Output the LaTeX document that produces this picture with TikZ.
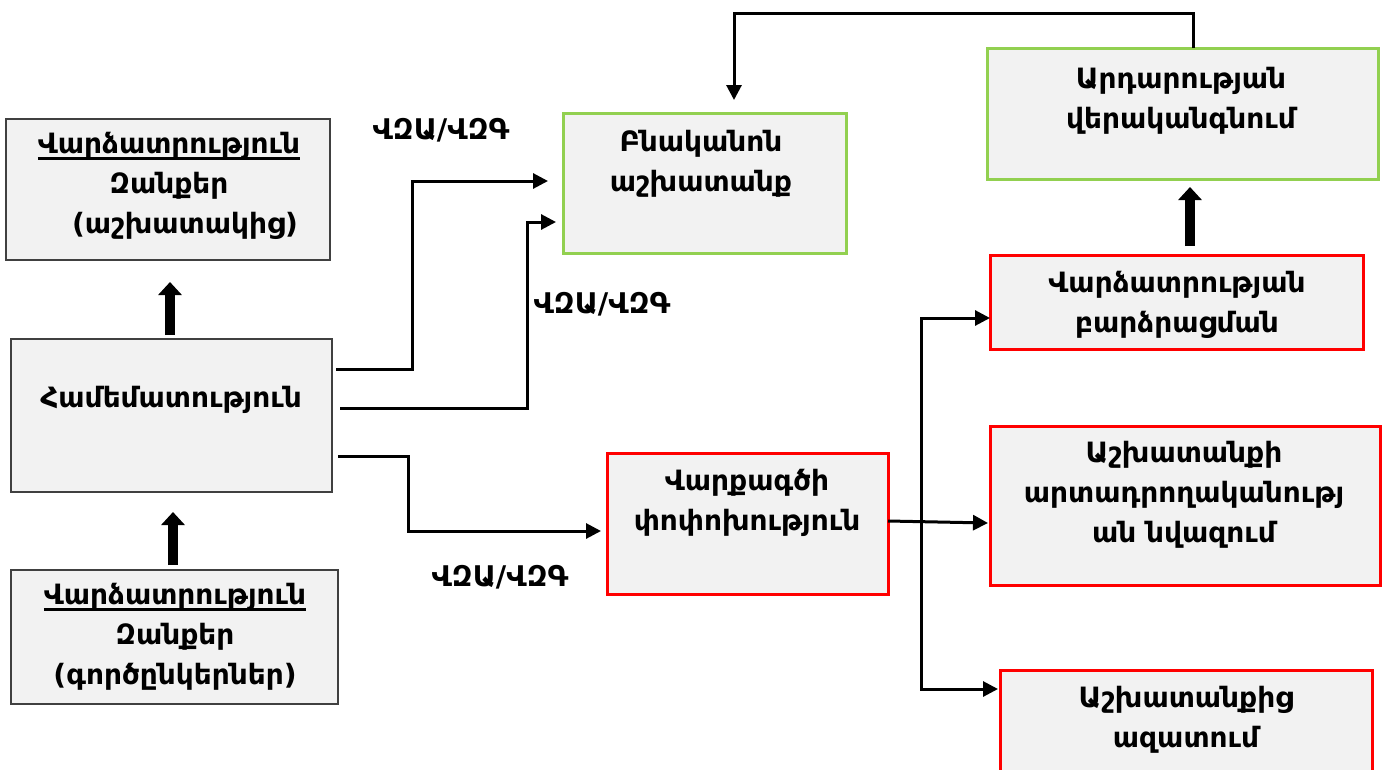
\documentclass[tikz,border=0pt]{standalone}
\usepackage{fontspec}
\setmainfont{DejaVu Sans}
\usetikzlibrary{arrows.meta}
\definecolor{boxfill}{HTML}{F2F2F2}
\definecolor{graybd}{HTML}{404040}
\definecolor{greenbd}{HTML}{92D050}
\definecolor{redbd}{HTML}{FF0000}
\newcommand\thickul[1]{\leavevmode\setbox0\hbox{#1}\rlap{\rule[-6pt]{\wd0}{2.6pt}}\box0}
\tikzset{
  box/.style={rectangle, fill=boxfill, inner sep=0pt, outer sep=0pt},
  graybox/.style={box, draw=graybd, line width=1.2pt},
  greenbox/.style={box, draw=greenbd, line width=3pt},
  redbox/.style={box, draw=redbd, line width=3pt},
  txt/.style={font=\bfseries\fontsize{28}{40}\selectfont, align=center, inner sep=0pt},
  lbl/.style={font=\bfseries\fontsize{28.5}{32}\selectfont, inner sep=0pt},
  conn/.style={line width=3pt, -{Triangle[length=15pt,width=15pt]}},
  plainline/.style={line width=3pt},
  bigarrow/.style={line width=10pt, -{Triangle[length=13pt,width=23pt]}},
}
\begin{document}
\begin{tikzpicture}[x=1pt,y=-1pt]
\useasboundingbox (0,0) rectangle (1385,769);
\clip (0,0) rectangle (1385,769);
% boxes
\node[graybox, minimum width=324pt, minimum height=141pt] (vzA) at (168,189.5) {};
\node[graybox, minimum width=321pt, minimum height=153pt] (cmp) at (171.5,415.5) {};
\node[graybox, minimum width=327pt, minimum height=134pt] (vzG) at (174.5,637) {};
\node[greenbox, minimum width=283pt, minimum height=140pt] (bn) at (704.5,183) {};
\node[greenbox, minimum width=391pt, minimum height=131pt] (ar) at (1182.5,113.5) {};
\node[redbox, minimum width=373pt, minimum height=94pt] (bar) at (1176.5,302) {};
\node[redbox, minimum width=390pt, minimum height=159pt] (nv) at (1185,505.5) {};
\node[redbox, minimum width=372pt, minimum height=120pt] (az) at (1186,730) {};
\node[redbox, minimum width=281pt, minimum height=141pt] (vq) at (747.5,523.5) {};
% texts
\node[txt] (t1) at (169,186) {\thickul{Վարձատրություն}\\Զանքեր\\\hspace*{32pt}(աշխատակից)};
\node[txt] (t2) at (171,400) {Համեմատություն};
\node[txt] (t3) at (175,637) {\thickul{Վարձատրություն}\\Զանքեր\\(գործընկերներ)};
\node[txt] (t4) at (701,164) {Բնականոն\\աշխատանք};
\node[txt] (t5) at (1181,101) {Արդարության\\վերականգնում};
\node[txt] (t6) at (1177,305) {Վարձատրության\\բարձրացման};
\node[txt] (t7) at (1184,495) {Աշխատանքի\\արտադրողականությ\\ան նվազում};
\node[txt] (t8) at (1186,720) {Աշխատանքից\\ազատում};
\node[txt] (t9) at (747,503) {Վարքագծի\\փոփոխություն};
% labels
\node[lbl] (l1) at (441,130) {ՎԶԱ/ՎԶԳ};
\node[lbl] (l2) at (602,304) {ՎԶԱ/ՎԶԳ};
\node[lbl] (l3) at (500,577) {ՎԶԱ/ՎԶԳ};
% big arrows
\draw[bigarrow] ([xshift=-1.5pt,yshift=4pt]cmp.north) -- ([xshift=2pt,yshift=-22pt]vzA.south);
\draw[bigarrow] ([xshift=-1.5pt,yshift=5pt]vzG.north) -- ([xshift=1.5pt,yshift=-20pt]cmp.south);
\draw[bigarrow] ([xshift=13.5pt,yshift=9pt]bar.north) -- ([xshift=7.5pt,yshift=-8pt]ar.south);
% connectors
\draw[conn] ([xshift=4pt,yshift=46.5pt]cmp.east) -| (412,181) -- ([xshift=-15pt,yshift=2pt]bn.west);
\draw[conn] ([xshift=8pt,yshift=7.5pt]cmp.east) -| (527,222) -- ([xshift=-7pt,yshift=-39pt]bn.west);
\draw[conn] ([xshift=6pt,yshift=-40.5pt]cmp.east) -| (408,531) -- ([xshift=-6pt,yshift=-7.5pt]vq.west);
\draw[conn] ([xshift=10.5pt]ar.north) -- (1193,13) -| ([xshift=29.5pt,yshift=13pt]bn.north);
% branch
\coordinate (btop) at (921,318);
\coordinate (bbot) at (921,689);
\draw[plainline, line cap=rect] (btop) -- (bbot);
\draw[conn] ([yshift=2.5pt]vq.east) -- ([xshift=-2pt,yshift=-17.5pt]nv.west);
\draw[conn] (btop) -- ([yshift=-16pt]bar.west);
\draw[conn] (bbot) -- ([xshift=-2pt,yshift=41pt]az.west);
\end{tikzpicture}
\end{document}
